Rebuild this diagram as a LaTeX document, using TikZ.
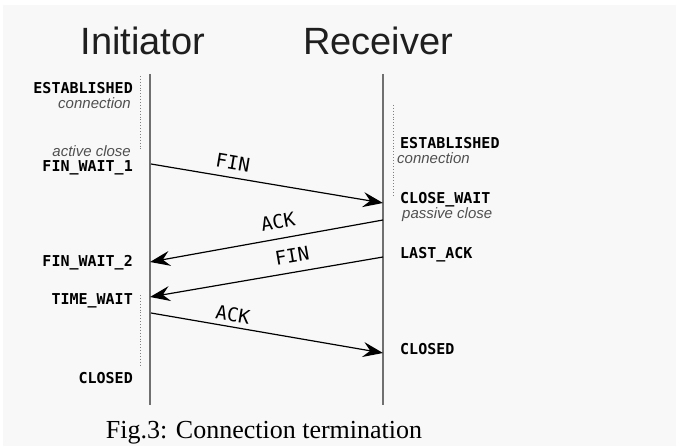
\documentclass[tikz,border=0pt]{standalone}
\usepackage{fontspec}
\usetikzlibrary{arrows.meta}
\newfontfamily\titlefont{Liberation Sans}
\newfontfamily\monofont{DejaVu Sans Mono}
\newfontfamily\notefont{Liberation Sans}
\newfontfamily\capfont{Liberation Serif}
\definecolor{bg}{HTML}{F8F8F8}
\definecolor{lifegray}{HTML}{707070}
\definecolor{notegray}{HTML}{505050}
\tikzset{
  titlelbl/.style={font=\titlefont\fontsize{38}{40}\selectfont, text=black!88, inner sep=0pt},
  statel/.style={font=\monofont\bfseries\fontsize{15}{16}\selectfont, anchor=east, inner sep=0pt},
  stater/.style={font=\monofont\bfseries\fontsize{15}{16}\selectfont, anchor=west, inner sep=0pt},
  notel/.style={font=\notefont\itshape\fontsize{15}{16}\selectfont, text=notegray, anchor=east, inner sep=0pt},
  noter/.style={font=\notefont\itshape\fontsize{15}{16}\selectfont, text=notegray, anchor=west, inner sep=0pt},
  msglbl/.style={font=\monofont\fontsize{19}{20}\selectfont, inner sep=0pt},
  lifeline/.style={draw=lifegray, line width=1.8pt},
  stateline/.style={draw=gray, line width=0.9pt, dotted},
  msg/.style={draw=black, line width=1.2pt, -{Stealth[length=20pt,width=15pt,inset=7pt]}}
}
\begin{document}
\begin{tikzpicture}[x=1pt,y=-1pt]
\useasboundingbox (0,0) rectangle (676,446);
\fill[white] (0,0) rectangle (676,446);
\fill[bg] (3,5) rectangle (676,446);
% titles
\node[titlelbl] (init) at (143,41) {Initiator};
\node[titlelbl] (recv) at (378,41) {Receiver};
% lifelines
\coordinate (Ltop) at (150,74);
\coordinate (Lbot) at (150,405);
\coordinate (Rtop) at (383,74);
\coordinate (Rbot) at (383,405);
\draw[lifeline] (Ltop) -- (Lbot);
\draw[lifeline] (Rtop) -- (Rbot);
% state dotted lines
\coordinate (d1a) at (140,76);
\coordinate (d1b) at (140,150);
\coordinate (d2a) at (140,295);
\coordinate (d2b) at (140,367);
\coordinate (d3a) at (393,105);
\coordinate (d3b) at (393,195);
\draw[stateline] (d1a) -- (d1b);
\draw[stateline] (d2a) -- (d2b);
\draw[stateline] (d3a) -- (d3b);
% left states
\node[statel] (estL) at (133,88) {ESTABLISHED};
\node[notel] (connL) at (131,103) {connection};
\node[notel] (actc) at (131,151) {active close};
\node[statel] (fw1) at (133,168) {FIN\_WAIT\_1};
\node[statel] (fw2) at (133,263) {FIN\_WAIT\_2};
\node[statel] (tw) at (133,301) {TIME\_WAIT};
\node[statel] (clL) at (133,378) {CLOSED};
% right states
\node[stater] (estR) at (400,143) {ESTABLISHED};
\node[noter] (connR) at (397,158) {connection};
\node[stater] (cw) at (400,200) {CLOSE\_WAIT};
\node[noter] (pasc) at (402,215) {passive close};
\node[stater] (la) at (400,255) {LAST\_ACK};
\node[stater] (clR) at (400,349) {CLOSED};
% message end points
\coordinate (m1s) at (151,164);
\coordinate (m1e) at (383,203);
\coordinate (m2s) at (383,220);
\coordinate (m2e) at (150,262);
\coordinate (m3s) at (383,257);
\coordinate (m3e) at (150,297);
\coordinate (m4s) at (151,313);
\coordinate (m4e) at (383,353);
\draw[msg] (m1s) -- (m1e);
\draw[msg] (m2s) -- (m2e);
\draw[msg] (m3s) -- (m3e);
\draw[msg] (m4s) -- (m4e);
\node[msglbl, rotate=-9.6] (l1) at (233,163) {FIN};
\node[msglbl, rotate=10.2] (l2) at (278,222) {ACK};
\node[msglbl, rotate=9.7] (l3) at (292,256) {FIN};
\node[msglbl, rotate=-9.7] (l4) at (233,315) {ACK};
% caption
\node[font=\capfont\fontsize{26}{28}\selectfont, inner sep=0pt] (cap) at (264,433) {Fig.3: Connection termination};
\end{tikzpicture}
\end{document}
